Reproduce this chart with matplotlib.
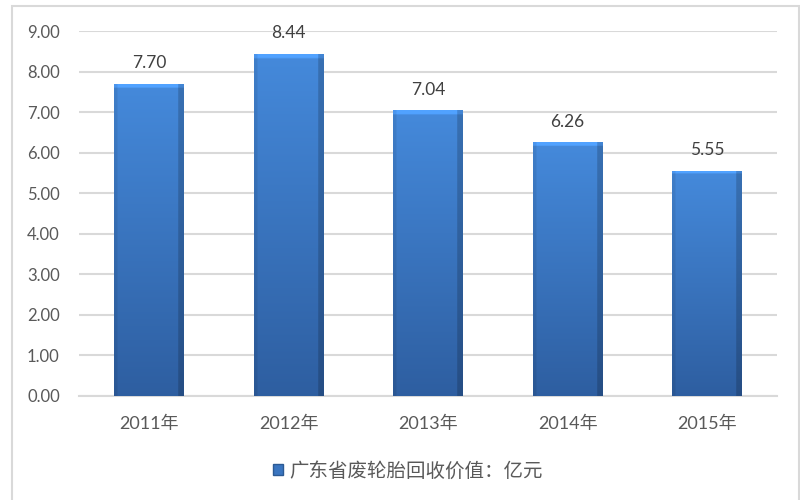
import matplotlib.pyplot as plt
import numpy as np
from matplotlib.patches import Rectangle

plt.rcParams['font.family'] = ['Lato', 'Noto Sans CJK SC', 'DejaVu Sans']

# data
years = ['2011年', '2012年', '2013年', '2014年', '2015年']
values = [7.70, 8.44, 7.04, 6.26, 5.55]
series_name = '广东省废轮胎回收价值：亿元'
yticks = [0, 1, 2, 3, 4, 5, 6, 7, 8, 9]

fig = plt.figure(figsize=(8, 5), dpi=100)
ax = fig.add_axes([0.099, 0.208, 0.872, 0.730])

x = np.arange(len(years))
bars = ax.bar(x, values, width=0.5, color='#3a75c0', zorder=3, label=series_name)

# gradient fill for each bar (lighter top, darker bottom, shaded right edge)
top = np.array([0.27, 0.54, 0.86])
bot = np.array([0.18, 0.37, 0.63])
ny, nx = 200, 60
v = np.linspace(1, 0, ny)[:, None, None]
img = bot + (top - bot) * v
img = np.repeat(img, nx, axis=1)
h = np.linspace(0, 1, nx)
shade = np.ones(nx)
shade[h > 0.93] = 0.82
shade[h < 0.04] = 0.92
img = img * shade[None, :, None]
img[:3] = np.clip(img[:3] * 1.18, 0, 1)
for b in bars:
    bx, bw, bh = b.get_x(), b.get_width(), b.get_height()
    im = ax.imshow(img, extent=[bx, bx + bw, 0, bh], aspect='auto', zorder=3.5,
                   interpolation='bilinear')
    im.set_clip_path(b)
    ax.annotate(f'{bh:.2f}', (bx + bw / 2, bh), textcoords='offset points',
                xytext=(0, 9), ha='center', va='bottom', fontsize=12.5, color='#404040')

ax.set_xlim(-0.5, len(years) - 0.5)
ax.set_ylim(0, 9)
ax.set_xticks(x)
ax.set_xticklabels(years)
ax.set_yticks(yticks)
ax.set_yticklabels([f'{t:.2f}' for t in yticks])
ax.tick_params(axis='both', length=0, labelcolor='#595959')
ax.tick_params(axis='y', pad=14, labelsize=12)
ax.tick_params(axis='x', pad=14, labelsize=13)
ax.grid(axis='y', color='#d9d9d9', linewidth=1.5, zorder=0)
for s in ['top', 'right', 'left']:
    ax.spines[s].set_visible(False)
ax.spines['bottom'].set_color('#d9d9d9')
ax.spines['bottom'].set_linewidth(1.5)

# legend
leg = fig.legend(handles=[Rectangle((0, 0), 1, 1, facecolor='#3a75c0', edgecolor='#2c5a94')],
                 labels=[series_name], loc='center', bbox_to_anchor=(0.51, 0.06),
                 frameon=False, fontsize=14, handlelength=0.5, handleheight=0.5,
                 handletextpad=0.3)
for t in leg.get_texts():
    t.set_color('#595959')

# outer chart border
fig.add_artist(Rectangle((12 / 800, -0.1), 787 / 800, 1.1 - 6 / 500,
                         transform=fig.transFigure, fill=False,
                         edgecolor='#d9d9d9', linewidth=1.5))

fig.savefig('out.png', dpi=100)
